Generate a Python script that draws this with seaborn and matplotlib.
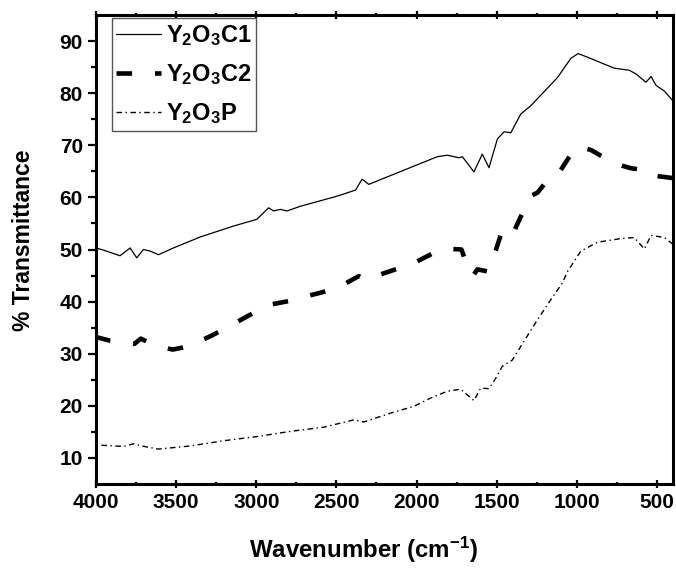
import matplotlib
matplotlib.use("Agg")
import matplotlib.pyplot as plt
import seaborn as sns
import pandas as pd

# FTIR spectra: wavenumber (cm^-1) vs % transmittance
wn_c1 = [4000, 3955, 3850, 3787, 3746, 3704, 3662, 3610, 3517, 3350, 3142, 2996,
         2923, 2892, 2850, 2808, 2725, 2500, 2381, 2340, 2298, 2017, 1871, 1808,
         1735, 1714, 1642, 1590, 1548, 1496, 1454, 1412, 1350, 1287, 1121, 1037,
         992, 933, 767, 673, 631, 569, 537, 506, 454, 400]
t_c1 = [50.3, 49.9, 48.8, 50.3, 48.4, 50.0, 49.7, 49.0, 50.3, 52.4, 54.5, 55.8,
        58.0, 57.4, 57.7, 57.4, 58.3, 60.2, 61.4, 63.5, 62.5, 66.0, 67.8, 68.1,
        67.6, 67.8, 64.9, 68.3, 65.7, 71.2, 72.6, 72.4, 76.0, 77.6, 83.0, 86.7,
        87.6, 86.9, 84.8, 84.4, 83.7, 82.1, 83.2, 81.5, 80.4, 78.5]

wn_c2 = [4000, 3912, 3800, 3760, 3720, 3680, 3600, 3521, 3423, 3277, 3179, 3037,
         2944, 2900, 2798, 2704, 2600, 2496, 2360, 2320, 2256, 2121, 2017, 1871,
         1777, 1720, 1683, 1646, 1621, 1558, 1517, 1464, 1430, 1392, 1329, 1287,
         1246, 1204, 1110, 1017, 985, 912, 767, 662, 570, 537, 506, 450, 400]
t_c2 = [33.2, 32.5, 32.0, 31.9, 32.9, 32.3, 31.3, 30.8, 31.4, 33.5, 35.1, 37.5,
        39.0, 39.5, 40.1, 40.9, 41.7, 42.6, 44.9, 44.2, 44.9, 46.3, 47.4, 49.7,
        50.1, 50.0, 46.8, 45.0, 46.2, 45.8, 48.8, 53.8, 52.9, 53.5, 57.7, 60.3,
        60.9, 62.5, 64.8, 69.2, 69.7, 69.1, 66.5, 65.6, 65.2, 65.1, 64.1, 63.9, 63.7]

wn_p = [4000, 3829, 3767, 3683, 3610, 3412, 3204, 2996, 2787, 2579, 2392, 2329,
        2162, 2017, 1912, 1808, 1725, 1642, 1600, 1548, 1506, 1465, 1402, 1350,
        1246, 1162, 1090, 1058, 975, 871, 725, 642, 579, 537, 454, 400]
t_p = [12.5, 12.2, 12.7, 12.1, 11.7, 12.3, 13.3, 14.1, 15.1, 15.9, 17.3, 16.9,
       18.6, 19.9, 21.5, 22.8, 23.2, 21.0, 23.4, 23.3, 25.3, 27.6, 28.8, 31.4,
       36.5, 40.4, 43.6, 45.8, 49.7, 51.4, 52.1, 52.3, 50.1, 52.7, 52.3, 51.0]

labels = [r"$\mathbf{Y_2O_3C1}$", r"$\mathbf{Y_2O_3C2}$", r"$\mathbf{Y_2O_3P}$"]
x_ticks = [4000, 3500, 3000, 2500, 2000, 1500, 1000, 500]
y_ticks = [10, 20, 30, 40, 50, 60, 70, 80, 90]

sns.set_style("ticks")
plt.rcParams["font.family"] = ["Liberation Sans", "DejaVu Sans"]
plt.rcParams["font.weight"] = "bold"
plt.rcParams["text.color"] = "black"
plt.rcParams["axes.labelcolor"] = "black"
plt.rcParams["xtick.color"] = "black"
plt.rcParams["ytick.color"] = "black"
plt.rcParams["mathtext.fontset"] = "custom"
plt.rcParams["mathtext.rm"] = "Liberation Sans:bold"
plt.rcParams["mathtext.bf"] = "Liberation Sans:bold"
plt.rcParams["mathtext.it"] = "Liberation Sans:bold:italic"

fig = plt.figure(figsize=(6.76, 5.69), dpi=100)
ax = fig.add_axes([0.142, 0.1494, 0.8536, 0.8242])

df_c1 = pd.DataFrame({"wn": wn_c1, "T": t_c1})
df_c2 = pd.DataFrame({"wn": wn_c2, "T": t_c2})
df_p = pd.DataFrame({"wn": wn_p, "T": t_p})

sns.lineplot(data=df_c1, x="wn", y="T", ax=ax, color="black", lw=0.9,
             estimator=None, label=labels[0])
sns.lineplot(data=df_c2, x="wn", y="T", ax=ax, color="black", lw=3.3,
             linestyle=(0, (3.4, 5.0)), estimator=None, label=labels[1])
sns.lineplot(data=df_p, x="wn", y="T", ax=ax, color="black", lw=1.0,
             linestyle=(0, (4, 2.5, 1, 2.5)), estimator=None, label=labels[2])

ax.set_xlim(4000, 400)
ax.set_ylim(5, 95)
ax.set_xticks(x_ticks)
ax.set_yticks(y_ticks)
ax.set_xticks([3750, 3250, 2750, 2250, 1750, 1250, 750], minor=True)
ax.set_yticks([15, 25, 35, 45, 55, 65, 75, 85], minor=True)
ax.set_xticklabels([str(v) for v in x_ticks], fontsize=15, fontweight="bold",
                   color="black")
ax.set_yticklabels([str(v) for v in y_ticks], fontsize=15, fontweight="bold",
                   color="black")

for s in ax.spines.values():
    s.set_linewidth(2.2)
    s.set_color("black")

ax.tick_params(axis="both", which="major", direction="out", length=5.5, width=1.6,
               pad=4, colors="black")
ax.tick_params(axis="both", which="minor", direction="out", length=3.5, width=1.6,
               colors="black")
ax.tick_params(axis="x", which="both", top=True)
ax.tick_params(axis="x", which="both", direction="inout")

ax.set_xlabel(r"Wavenumber (cm$^{\mathbf{-1}}$)", fontsize=17.3, fontweight="bold",
              color="black")
ax.set_ylabel("% Transmittance", fontsize=16.5, fontweight="bold", color="black")
ax.xaxis.set_label_coords(0.464, -0.108)
ax.yaxis.set_label_coords(-0.106, 0.52)

leg = ax.legend(loc="upper left", bbox_to_anchor=(0.027, 0.993), borderaxespad=0,
                fontsize=17, frameon=True, fancybox=False, framealpha=1,
                edgecolor="#555555", handlelength=1.9, handletextpad=0.2,
                labelspacing=0.6, borderpad=0.2, labelcolor="black")
leg.get_frame().set_linewidth(1.0)

fig.savefig("out.png", dpi=100)
